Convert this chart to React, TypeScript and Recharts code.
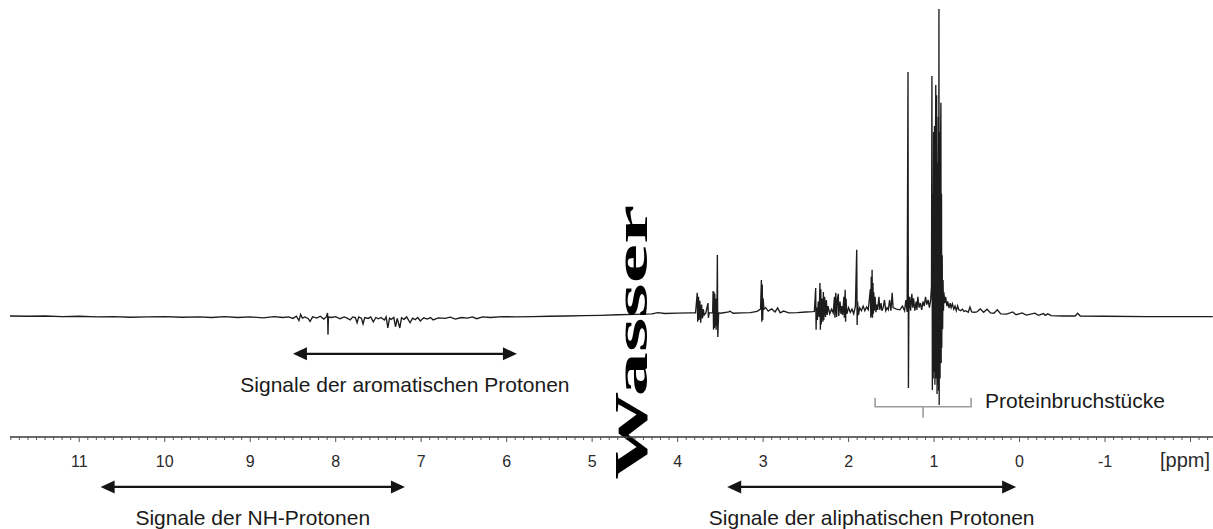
import React from "react";
import { LineChart, Line, XAxis, YAxis, ReferenceLine } from "recharts";

// 1H NMR trace, [ppm, intensity] pairs (intensity in % of the strongest line)
const nhRegion: [number, number][] = [
  [11.81, 0.3], [11.6, 0.2], [11.4, 0.3], [11.2, 0.1], [11.0, 0.2], [10.8, 0.0],
  [10.6, 0.1], [10.4, -0.1], [10.2, 0.0], [10.0, 0.1], [9.8, -0.1], [9.6, 0.0],
  [9.45, -0.2], [9.3, 0.1], [9.15, -0.2], [9.0, 0.0], [8.85, -0.3], [8.72, 0.1], [8.62, -0.2],
];

const aromaticRegion: [number, number][] = [
  [8.55, 0.0], [8.5, -0.5], [8.46, 0.2], [8.43, -1.2], [8.41, 0.8], [8.39, -0.4], [8.36, 0.0],
  [8.32, -0.6], [8.3, -1.5], [8.27, 0.0], [8.22, -0.4], [8.18, 0.2], [8.14, -0.7], [8.11, 0.0],
  [8.095, 1.3], [8.09, -5.8], [8.085, 0.0], [8.05, -0.2], [8.0, 0.1], [7.95, -0.6], [7.9, 0.0],
  [7.86, -0.5], [7.83, -1.0], [7.8, 0.0], [7.77, -0.2], [7.75, -1.9], [7.73, 0.0], [7.7, -0.4],
  [7.68, -2.3], [7.66, -0.2], [7.62, -0.5], [7.59, 0.0], [7.56, -1.6], [7.53, -0.2], [7.5, -0.6],
  [7.47, -0.2], [7.43, -1.0], [7.41, 0.0], [7.39, -3.6], [7.37, -0.4], [7.35, -0.8], [7.32, -0.2],
  [7.3, -3.2], [7.28, -0.5], [7.25, -3.6], [7.23, -0.3], [7.2, -0.8], [7.17, 0.0], [7.13, -1.9],
  [7.1, -0.4], [7.07, -0.9], [7.04, -0.2], [7.01, -1.3], [6.97, -0.3], [6.93, -0.7], [6.89, -0.2],
  [6.86, -1.0], [6.8, -0.3], [6.72, -0.5], [6.66, -0.1], [6.6, -0.7], [6.53, -0.2], [6.46, -0.4],
  [6.4, 0.0], [6.35, -0.6], [6.28, 0.0], [6.19, -0.2], [6.05, 0.1], [5.9, 0.0],
];

const waterRegion: [number, number][] = [
  [5.7, 0.1], [5.5, 0.2], [5.3, 0.3], [5.1, 0.4], [4.9, 0.5], [4.7, 0.7], [4.5, 0.8],
  [4.3, 1.0], [4.23, 1.4], [4.15, 1.1], [4.0, 1.2], [3.85, 1.3],
];

const aliphaticRegion: [number, number][] = [
  [3.79, 1.3], [3.77, 7.8], [3.765, -1.6], [3.755, 6.5], [3.75, -1.0], [3.74, 5.2], [3.73, -1.9],
  [3.72, 4.0], [3.71, -0.5], [3.7, 2.5], [3.69, 0.6], [3.67, 1.3], [3.645, 4.5], [3.64, -0.3],
  [3.63, 1.3], [3.59, 1.3], [3.585, 8.4], [3.58, -4.2], [3.575, 8.1], [3.57, -3.6], [3.565, 7.5],
  [3.56, -3.0], [3.555, 6.0], [3.55, -4.2], [3.54, 2.0], [3.535, 20.1], [3.53, -6.5], [3.52, 1.3],
  [3.5, 1.2], [3.4, 1.6], [3.39, 1.9], [3.35, 1.2], [3.25, 1.3], [3.15, 1.4], [3.07, 1.8],
  [3.03, 2.5], [3.02, 12.0], [3.015, -1.6], [3.01, 10.5], [3.005, -1.0], [3.0, 6.0], [2.99, 2.5],
  [2.97, 3.0], [2.94, 1.9], [2.9, 2.6], [2.86, 1.6], [2.83, 2.9], [2.8, 1.3], [2.76, 1.9],
  [2.7, 1.3], [2.6, 1.4], [2.5, 1.6], [2.42, 1.7],
];

const midRegion: [number, number][] = [
  [2.4, 1.8], [2.385, 9.4], [2.38, -4.2], [2.375, 3.0], [2.365, -1.0], [2.355, 5.0], [2.345, 0.0],
  [2.335, 11.0], [2.33, -4.2], [2.325, 9.0], [2.32, -2.5], [2.31, 6.0], [2.3, -1.6], [2.295, 8.1],
  [2.29, -1.0], [2.28, 6.5], [2.27, 0.0], [2.26, 5.5], [2.25, 0.6], [2.24, 3.5], [2.22, 1.0],
  [2.2, 2.5], [2.18, 1.3], [2.165, 6.5], [2.16, -0.3], [2.15, 7.8], [2.14, 0.0], [2.13, 6.0],
  [2.12, 7.5], [2.115, 0.3], [2.1, 5.0], [2.09, 1.0], [2.08, 3.5], [2.07, 0.6], [2.055, 6.5],
  [2.05, -0.3], [2.04, 8.8], [2.035, -1.6], [2.03, 6.0], [2.02, 1.0], [2.0, 3.0], [1.98, 1.5],
  [1.96, 2.5], [1.94, 1.0], [1.92, 3.5], [1.905, 21.8], [1.9, -2.6], [1.895, 5.0], [1.885, 0.6],
  [1.87, 3.0], [1.85, 2.0], [1.83, 3.5], [1.81, 2.0], [1.79, 3.2], [1.77, 2.3], [1.745, 9.0],
  [1.74, -0.3], [1.735, 13.0], [1.73, 0.3], [1.725, 15.3], [1.72, -0.3], [1.715, 11.0], [1.71, 1.0],
  [1.705, 8.0], [1.7, 2.0], [1.69, 6.5], [1.68, 1.5], [1.67, 4.0], [1.66, 2.3], [1.645, 6.5],
  [1.635, 2.3], [1.62, 4.5], [1.61, 2.0], [1.595, 3.0], [1.58, 5.5], [1.565, 2.0], [1.55, 3.0],
  [1.535, 2.3], [1.52, 5.5], [1.505, 2.0], [1.49, 7.8], [1.48, 3.0], [1.44, 2.5], [1.4, 2.3],
];

const methylRegion: [number, number][] = [
  [1.37, 3.5], [1.345, 2.0], [1.33, 5.5], [1.315, 1.6], [1.305, 79.5], [1.3, -23.1], [1.295, 2.5],
  [1.285, 6.5], [1.275, 2.0], [1.26, 7.5], [1.25, 3.0], [1.24, 6.0], [1.225, 2.0], [1.21, 5.0],
  [1.2, 2.3], [1.19, 6.5], [1.175, 3.0], [1.16, 4.5], [1.145, 2.3], [1.13, 5.0], [1.115, 3.5],
  [1.1, 6.5], [1.085, 4.0], [1.07, 5.5], [1.055, 3.0], [1.04, 5.5], [1.03, 10.0], [1.025, 78.2],
  [1.02, -23.7], [1.015, 40.0], [1.01, -20.0], [1.005, 60.0], [1.0, -18.0], [0.995, 62.0],
  [0.99, -22.0], [0.985, 45.0], [0.98, 75.3], [0.975, -20.0], [0.97, 72.0], [0.965, -25.0],
  [0.96, 50.0], [0.955, -22.0], [0.95, 65.0], [0.947, -24.0], [0.943, 100.0], [0.94, -28.6],
  [0.935, 60.0], [0.93, -20.0], [0.925, 55.0], [0.92, 69.5], [0.917, -15.0], [0.913, 40.0],
  [0.91, -10.0], [0.905, 20.0], [0.9, -4.0], [0.895, 12.0], [0.89, 2.0], [0.885, 8.0],
  [0.875, 4.5], [0.865, 6.5], [0.85, 3.5], [0.84, 5.0], [0.825, 2.9], [0.81, 4.5], [0.8, 3.0],
  [0.785, 4.2], [0.77, 2.5], [0.755, 3.5], [0.74, 2.0], [0.725, 3.6], [0.71, 2.3], [0.69, 2.0],
  [0.67, 2.5], [0.65, 1.8], [0.63, 2.0], [0.6, 1.5], [0.58, 3.2], [0.56, 1.6], [0.53, 1.5],
];

const upfieldRegion: [number, number][] = [
  [0.5, 1.6], [0.46, 2.6], [0.42, 1.5], [0.38, 2.5], [0.34, 1.3], [0.3, 1.2], [0.26, 2.3],
  [0.22, 1.0], [0.15, 0.9], [0.08, 1.6], [0.04, 0.7], [-0.03, 1.3], [-0.08, 0.6], [-0.18, 1.2],
  [-0.22, 0.5], [-0.28, 1.1], [-0.3, 0.5], [-0.33, 1.0], [-0.37, 0.4], [-0.5, 0.3], [-0.65, 0.3],
  [-0.68, 1.2], [-0.71, 0.3], [-1.0, 0.2], [-1.5, 0.1], [-2.0, 0.1], [-2.26, 0.1],
];

const spectrum = [
  ...nhRegion,
  ...aromaticRegion,
  ...waterRegion,
  ...aliphaticRegion,
  ...midRegion,
  ...methylRegion,
  ...upfieldRegion,
].map(([ppm, intensity]) => ({ ppm, intensity }));

// axis
const tickLabels = [11, 10, 9, 8, 7, 6, 5, 4, 3, 2, 1, 0, -1];
const axisTicks: number[] = [];
for (let i = -22; i <= 118; i++) axisTicks.push(i / 10);

// annotations (ppm ranges)
const nhRange = [10.75, 7.19];
const aromaticRange = [8.5, 5.88];
const aliphaticRange = [3.42, 0.04];
const fragmentRange = [1.69, 0.567];
const waterPpm = 4.36;

const labelFont = "'Liberation Sans', Arial, sans-serif";
const ink = "#141414";

function PpmTick({ x, y, payload }: any) {
  const v = payload.value as number;
  const major = Math.abs(v - Math.round(v)) < 1e-6;
  const n = Math.round(v);
  return (
    <g>
      <line x1={x} y1={y} x2={x} y2={y + (major ? 5 : 3)} stroke="#555" strokeWidth={1} />
      {major && tickLabels.includes(n) && (
        <text x={x} y={y + 30} textAnchor="middle" fontFamily={labelFont} fontSize={16} fill="#2a2a2a">
          {String(n)}
        </text>
      )}
    </g>
  );
}

function PpmUnit({ viewBox }: any) {
  if (!viewBox) return null;
  return (
    <text
      x={viewBox.x + viewBox.width - 3}
      y={viewBox.y + 30}
      textAnchor="end"
      fontFamily={labelFont}
      fontSize={20}
      fill="#2a2a2a"
    >
      [ppm]
    </text>
  );
}

function DoubleArrow(props: any) {
  const { x1, x2, y1, text } = props;
  const left = Math.min(x1, x2);
  const right = Math.max(x1, x2);
  const head = 14;
  const half = 6.5;
  return (
    <g>
      <line x1={left + head - 2} y1={y1} x2={right - head + 2} y2={y1} stroke={ink} strokeWidth={2.4} />
      <polygon points={`${left},${y1} ${left + head},${y1 - half} ${left + head},${y1 + half}`} fill={ink} />
      <polygon points={`${right},${y1} ${right - head},${y1 - half} ${right - head},${y1 + half}`} fill={ink} />
      <text x={(left + right) / 2} y={y1 + 38} textAnchor="middle" fontFamily={labelFont} fontSize={21} fill="#1a1a1a">
        {text}
      </text>
    </g>
  );
}

function Bracket(props: any) {
  const { x1, x2, y1, text } = props;
  const left = Math.min(x1, x2);
  const right = Math.max(x1, x2);
  const mid = (left + right) / 2;
  const grey = "#9c9c9c";
  return (
    <g>
      <polyline
        points={`${left},${y1 - 9} ${left},${y1} ${right},${y1} ${right},${y1 - 9}`}
        fill="none"
        stroke={grey}
        strokeWidth={1.6}
      />
      <line x1={mid} y1={y1} x2={mid} y2={y1 + 11} stroke={grey} strokeWidth={1.6} />
      <text x={right + 14} y={y1 + 1} fontFamily={labelFont} fontSize={21} fill="#1a1a1a">
        {text}
      </text>
    </g>
  );
}

// rotated water label, stretched over the segment's vertical extent
function WaterLabel(props: any) {
  const { x1, y1, y2, text } = props;
  const bottom = Math.max(y1, y2);
  const top = Math.min(y1, y2);
  return (
    <text
      transform={`translate(${x1},${bottom}) rotate(-90)`}
      fontFamily="'Liberation Serif', 'Times New Roman', serif"
      fontWeight="bold"
      fontSize={47}
      textLength={bottom - top}
      lengthAdjust="spacingAndGlyphs"
      fill="#000"
    >
      {text}
    </text>
  );
}

export default function App() {
  return (
    <div style={{ position: "absolute", left: 0, top: 0, width: 1213, height: 529, background: "#fff" }}>
      <LineChart width={1213} height={529} data={spectrum} margin={{ top: 0, right: 0, bottom: 0, left: 10 }}>
        <XAxis
          type="number"
          dataKey="ppm"
          domain={[-2.263, 11.81]}
          reversed
          allowDataOverflow
          ticks={axisTicks}
          interval={0}
          tickSize={0}
          tickMargin={0}
          height={92}
          tick={<PpmTick />}
          tickLine={false}
          axisLine={{ stroke: "#3a3a3a", strokeWidth: 1.3 }}
          label={{ value: "[ppm]", content: <PpmUnit /> }}
        />
        <YAxis hide type="number" domain={[-39, 102.9]} allowDataOverflow />
        <Line
          type="linear"
          dataKey="intensity"
          stroke="#1c1c1c"
          strokeWidth={1.35}
          dot={false}
          activeDot={false}
          isAnimationActive={false}
        />
        <ReferenceLine
          segment={[{ x: aromaticRange[0], y: -12 }, { x: aromaticRange[1], y: -12 }]}
          ifOverflow="visible"
          shape={(p: any) => <DoubleArrow {...p} text="Signale der aromatischen Protonen" />}
        />
        <ReferenceLine
          segment={[{ x: nhRange[0], y: -55.2 }, { x: nhRange[1], y: -55.2 }]}
          ifOverflow="visible"
          shape={(p: any) => <DoubleArrow {...p} text="Signale der NH-Protonen" />}
        />
        <ReferenceLine
          segment={[{ x: aliphaticRange[0], y: -55.2 }, { x: aliphaticRange[1], y: -55.2 }]}
          ifOverflow="visible"
          shape={(p: any) => <DoubleArrow {...p} text="Signale der aliphatischen Protonen" />}
        />
        <ReferenceLine
          segment={[{ x: fragmentRange[0], y: -29.2 }, { x: fragmentRange[1], y: -29.2 }]}
          ifOverflow="visible"
          shape={(p: any) => <Bracket {...p} text="Proteinbruchstücke" />}
        />
        <ReferenceLine
          segment={[{ x: waterPpm, y: -52.9 }, { x: waterPpm, y: 36.4 }]}
          ifOverflow="visible"
          shape={(p: any) => <WaterLabel {...p} text="Wasser" />}
        />
      </LineChart>
    </div>
  );
}
